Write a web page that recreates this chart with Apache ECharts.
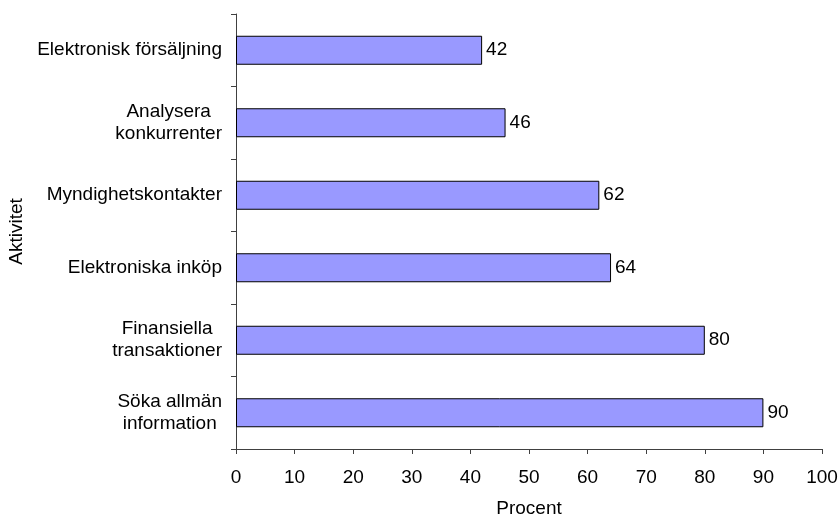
<!DOCTYPE html>
<html>
<head>
<meta charset="utf-8">
<script src="https://cdn.jsdelivr.net/npm/echarts@6/dist/echarts.min.js"></script>
<style>
  html, body { margin: 0; padding: 0; background: #fff; }
  #chart { width: 839px; height: 515px; }
</style>
</head>
<body>
<div id="chart"></div>
<script>
// Activities, listed bottom to top on the category axis
const categories = [
  'Söka allmän\ninformation',
  'Finansiella\ntransaktioner',
  'Elektroniska inköp',
  'Myndighetskontakter',
  'Analysera\nkonkurrenter',
  'Elektronisk försäljning'
];
const values = [90, 80, 64, 62, 46, 42];
const xTicks = [0, 10, 20, 30, 40, 50, 60, 70, 80, 90, 100];

const FONT = 'Liberation Sans, Arial, sans-serif';
const FS = 19;
const AXIS_COLOR = '#404040';

const chart = echarts.init(document.getElementById('chart'), null, { renderer: 'canvas' });

chart.setOption({
  animation: false,
  backgroundColor: '#ffffff',
  textStyle: { fontFamily: FONT },
  grid: {
    left: 236, right: 17, top: 14, bottom: 66,
    containLabel: false,
    outerBoundsMode: 'none'
  },
  xAxis: {
    type: 'value',
    min: xTicks[0],
    max: xTicks[xTicks.length - 1],
    interval: 10,
    name: 'Procent',
    nameLocation: 'middle',
    nameGap: 50,
    nameTextStyle: { color: '#000', fontSize: FS, fontFamily: FONT },
    axisLine: { show: true, lineStyle: { color: AXIS_COLOR, width: 1 } },
    axisTick: { show: true, inside: false, length: 5, lineStyle: { color: AXIS_COLOR } },
    axisLabel: { color: '#000', fontSize: FS, margin: 19, fontFamily: FONT },
    splitLine: { show: false }
  },
  yAxis: {
    type: 'category',
    data: categories,
    name: 'Aktivitet',
    nameLocation: 'middle',
    nameRotate: 90,
    nameGap: 206,
    nameTextStyle: { color: '#000', fontSize: FS, fontFamily: FONT },
    axisLine: { show: true, lineStyle: { color: AXIS_COLOR, width: 1 } },
    axisTick: { show: true, inside: false, length: 5, alignWithLabel: false, lineStyle: { color: AXIS_COLOR } },
    axisLabel: {
      color: '#000',
      fontSize: FS,
      margin: 14,
      fontFamily: FONT,
      lineHeight: 22,
      formatter: function (v) {
        return v.split('\n').map(function (s) { return '{c|' + s + '}'; }).join('\n');
      },
      rich: {
        c: { align: 'center', fontSize: FS, lineHeight: 22, color: '#000', fontFamily: FONT }
      }
    },
    splitLine: { show: false }
  },
  series: [{
    type: 'bar',
    data: values,
    barWidth: '40%',
    itemStyle: { color: '#9999ff', borderColor: '#000', borderWidth: 1 },
    label: {
      show: true,
      position: 'right',
      distance: 4,
      color: '#000',
      fontSize: FS,
      fontFamily: FONT
    }
  }]
});
</script>
</body>
</html>
